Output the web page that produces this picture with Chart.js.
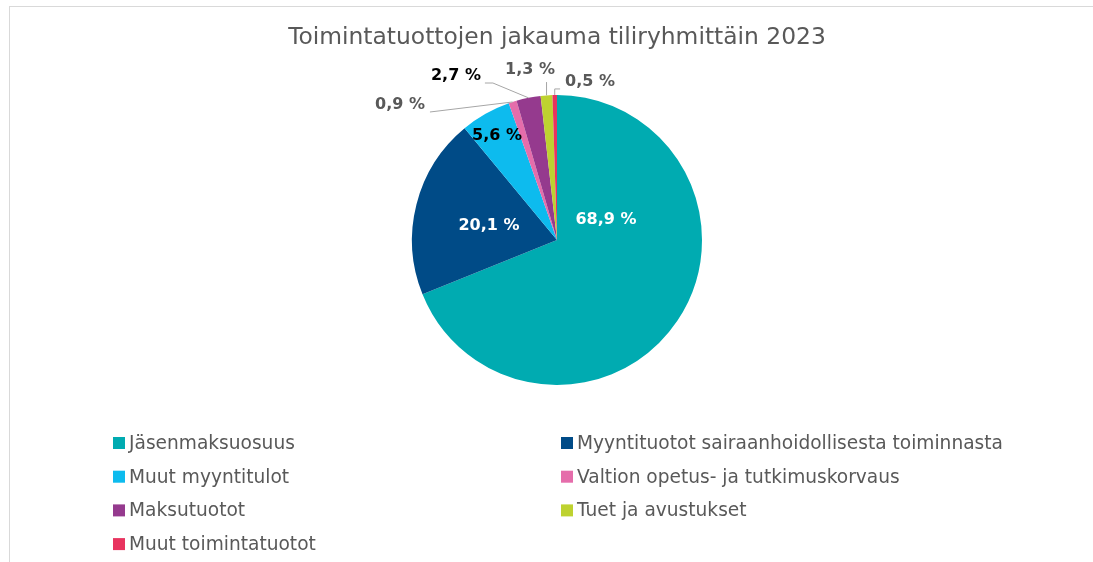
<!DOCTYPE html>
<html>
<head>
<meta charset="utf-8">
<script src="https://cdn.jsdelivr.net/npm/chart.js@4"></script>
<style>
  body { margin: 0; background: #fff; overflow: hidden; }
  #wrap { position: relative; width: 1093px; height: 562px; overflow: hidden; }
  #frame { position: absolute; left: 9px; top: 6px; width: 1200px; height: 700px; border: 1px solid #d9d9d9; }
  #chart { position: absolute; left: 0; top: 0; }
</style>
</head>
<body>
<div id="wrap">
  <div id="frame"></div>
  <canvas id="chart" width="1093" height="562"></canvas>
</div>
<script>
const chartTitle = 'Toimintatuottojen jakauma tiliryhmittäin 2023';
const categories = [
  'Jäsenmaksuosuus',
  'Myyntituotot sairaanhoidollisesta toiminnasta',
  'Muut myyntitulot',
  'Valtion opetus- ja tutkimuskorvaus',
  'Maksutuotot',
  'Tuet ja avustukset',
  'Muut toimintatuotot'
];
const shares = [68.9, 20.1, 5.6, 0.9, 2.7, 1.3, 0.5];
const sliceColors = ['#00abb1', '#004b87', '#0dbbee', '#e56dab', '#953a8e', '#bed230', '#e8345f'];

const FONT = '"DejaVu Sans", sans-serif';
const fmt = v => v.toFixed(1).replace('.', ',') + ' %';

// label placement relative to pie centre, in radius units
const labelSpots = [
  { dx: 0.338, dy: -0.138, color: '#ffffff' },
  { dx: -0.469, dy: -0.097, color: '#ffffff' },
  { dx: -0.414, dy: -0.717, color: '#000000' },
  { dx: -1.083, dy: -0.931, color: '#595959', leader: 'right' },
  { dx: -0.697, dy: -1.131, color: '#000000', leader: 'elbowRight' },
  { dx: -0.186, dy: -1.172, color: '#595959', leader: 'down' },
  { dx: 0.228, dy: -1.090, color: '#595959', leader: 'elbowLeft' }
];

const decorPlugin = {
  id: 'decor',
  afterDraw(chart) {
    const ctx = chart.ctx;
    const arcs = chart.getDatasetMeta(0).data;
    const a0 = arcs[0];
    const cx = a0.x, cy = a0.y, r = a0.outerRadius;

    // title
    ctx.save();
    ctx.fillStyle = '#595959';
    ctx.font = '23.4px ' + FONT;
    ctx.textAlign = 'center';
    ctx.textBaseline = 'middle';
    ctx.fillText(chartTitle, cx, 38);

    // data labels
    ctx.font = 'bold 16px ' + FONT;
    arcs.forEach((arc, i) => {
      const s = labelSpots[i];
      const tx = cx + s.dx * r, ty = cy + s.dy * r;
      const txt = fmt(shares[i]);
      const w = ctx.measureText(txt).width;
      ctx.fillStyle = s.color;
      ctx.fillText(txt, tx, ty);
      if (!s.leader) return;
      const mid = (arc.startAngle + arc.endAngle) / 2;
      const px = cx + Math.cos(mid) * r, py = cy + Math.sin(mid) * r;
      const bottom = ty + 7;
      ctx.strokeStyle = '#a6a6a6';
      ctx.lineWidth = 1;
      ctx.beginPath();
      if (s.leader === 'right') {
        ctx.moveTo(tx + w / 2 + 5, bottom);
        ctx.lineTo(px, py);
      } else if (s.leader === 'elbowRight') {
        ctx.moveTo(tx + w / 2 + 4, bottom);
        ctx.lineTo(tx + w / 2 + 12, bottom);
        ctx.lineTo(px, py);
      } else if (s.leader === 'down') {
        ctx.moveTo(px, bottom + 5);
        ctx.lineTo(px, py);
      } else if (s.leader === 'elbowLeft') {
        ctx.moveTo(tx - w / 2 - 5, bottom);
        ctx.lineTo(px, bottom);
        ctx.lineTo(px, py);
      }
      ctx.stroke();
    });

    // legend, two columns
    const colX = [113, 561];
    const rowY0 = 443, rowGap = 33.7, box = 12;
    ctx.font = '18.6px ' + FONT;
    ctx.textAlign = 'left';
    categories.forEach((name, i) => {
      const x = colX[i % 2];
      const y = rowY0 + Math.floor(i / 2) * rowGap;
      ctx.fillStyle = sliceColors[i];
      ctx.fillRect(x, y - box / 2, box, box);
      ctx.fillStyle = '#595959';
      ctx.fillText(name, x + box + 4, y + 1);
    });
    ctx.restore();
  }
};

new Chart(document.getElementById('chart'), {
  type: 'pie',
  data: {
    labels: categories,
    datasets: [{
      data: shares,
      backgroundColor: sliceColors,
      borderWidth: 0,
      hoverOffset: 0
    }]
  },
  options: {
    responsive: false,
    animation: false,
    layout: { padding: { left: 412, right: 391, top: 95, bottom: 177 } },
    plugins: {
      legend: { display: false },
      title: { display: false },
      tooltip: { enabled: false }
    }
  },
  plugins: [decorPlugin]
});
</script>
</body>
</html>
